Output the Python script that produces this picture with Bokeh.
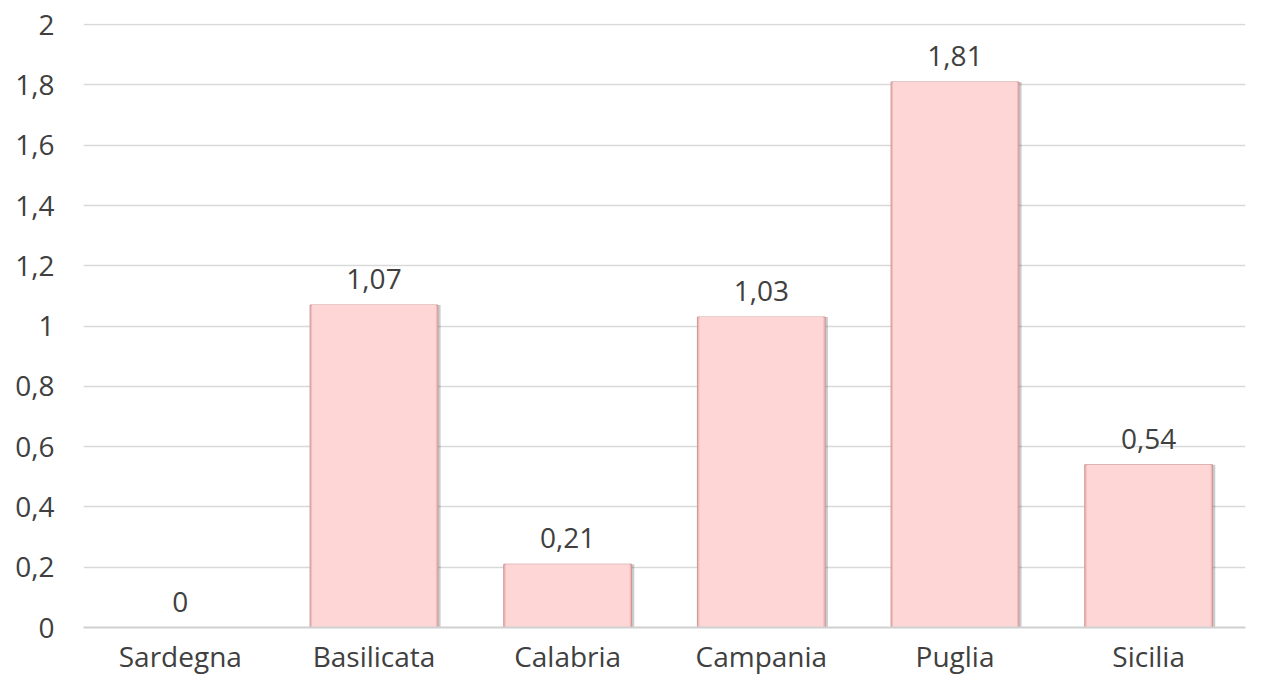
from bokeh.plotting import figure
from bokeh.models import ColumnDataSource, FixedTicker, CustomJSTickFormatter
from bokeh.transform import dodge
from bokeh.embed import file_html
from bokeh.resources import INLINE

categories = ["Sardegna", "Basilicata", "Calabria", "Campania", "Puglia", "Sicilia"]
values = [0, 1.07, 0.21, 1.03, 1.81, 0.54]
labels = ["0", "1,07", "0,21", "1,03", "1,81", "0,54"]
y_ticks = [0, 0.2, 0.4, 0.6, 0.8, 1.0, 1.2, 1.4, 1.6, 1.8, 2.0]

src = ColumnDataSource(dict(cat=categories, val=values, lab=labels))

FONT = "Open Sans"
TXT = "#404040"
FS = "28px"

p = figure(x_range=categories, y_range=(0, 2.004), width=1267, height=677,
           output_backend="svg", toolbar_location=None,
           min_border_left=83, min_border_right=22, min_border_top=23, min_border_bottom=45)
p.outline_line_color = None

# shadow
p.vbar(x=dodge("cat", 0.014, range=p.x_range), top="val", width=0.66, source=src,
       fill_color="#000000", fill_alpha=0.2, line_color=None)
p.vbar(x="cat", top="val", width=0.66, source=src,
       fill_color="#F4BBBB", line_color="#C99595", line_width=1)
p.vbar(x="cat", top="val", width=0.64, source=src,
       fill_color="#FFD6D6", line_color=None)

p.text(x="cat", y="val", text="lab", source=src, text_align="center",
       text_baseline="bottom", y_offset=-16, text_font_size=FS,
       text_color=TXT, text_font={"value": FONT})

p.yaxis.ticker = FixedTicker(ticks=y_ticks)
p.yaxis.formatter = CustomJSTickFormatter(code="return tick.toFixed(1).replace(/\\.0$/, '').replace('.', ',');")
for ax in (p.xaxis, p.yaxis):
    ax.axis_line_color = None
    ax.major_tick_line_color = None
    ax.minor_tick_line_color = None
    ax.major_label_text_font = FONT
    ax.major_label_text_font_size = FS
    ax.major_label_text_color = TXT
p.yaxis.major_label_standoff = 23
p.xaxis.major_label_standoff = 3
p.xaxis.axis_line_color = "#D0D0D0"
p.xaxis.axis_line_width = 2

p.xgrid.grid_line_color = None
p.ygrid.grid_line_color = "#D9D9D9"
p.ygrid.grid_line_width = 1.5

open("out.html", "w").write(file_html(p, INLINE))
